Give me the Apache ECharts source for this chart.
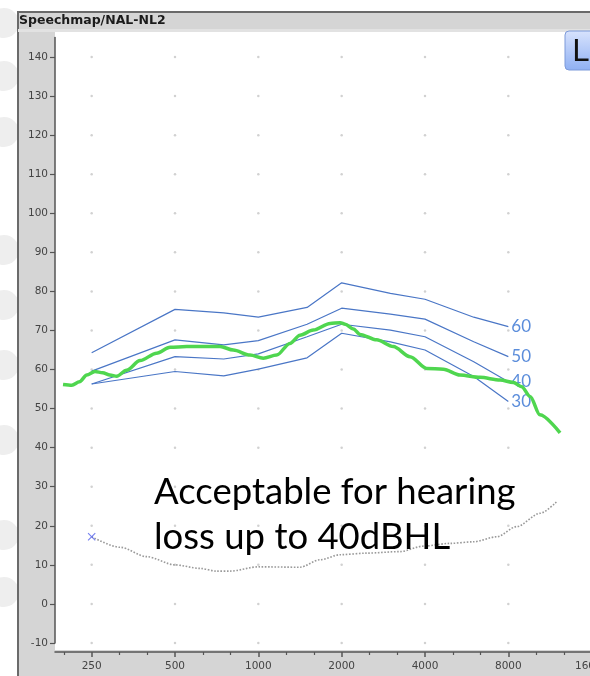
<!DOCTYPE html>
<html>
<head>
<meta charset="utf-8">
<script src="https://cdn.jsdelivr.net/npm/echarts@6/dist/echarts.min.js"></script>
<style>
  html, body { margin: 0; padding: 0; background: #fff; }
  #chart { width: 590px; height: 676px; }
</style>
</head>
<body>
<div id="chart"></div>
<script>
// frequency axis (Hz) and level axis (dB SPL)
const xTickFreqs = [250, 500, 1000, 2000, 4000, 8000, 16000]
const yTicks = [-10, 0, 10, 20, 30, 40, 50, 60, 70, 80, 90, 100, 110, 120, 130, 140]

// speech targets for input levels 60/50/40/30
const inputLevels = ['60', '50', '40', '30']
const targetFreqs = [250, 500, 750, 1000, 1500, 2000, 3000, 4000, 6000, 8000]
const target60 = [64.3, 75.4, 74.5, 73.4, 75.9, 82.2, 79.5, 78.0, 73.4, 71.0]
const target50 = [59.6, 67.6, 66.3, 67.4, 71.6, 75.7, 74.2, 72.9, 67.1, 63.3]
const target40 = [56.3, 63.3, 62.7, 64.0, 68.4, 71.6, 70.1, 68.4, 62.0, 56.9]
const target30 = [56.3, 59.5, 58.4, 60.1, 63.0, 69.3, 67.1, 65.0, 58.2, 51.8]

// measured response (green)
const measuredFreqs = [197, 212, 226, 240, 257, 274, 291, 308, 334, 374, 429, 480, 551, 651, 727, 812, 933, 1042, 1165, 1300, 1414, 1580, 1816, 1975, 2060, 2204, 2330, 2676, 3074, 3530, 4058, 4660, 5350, 6320, 7470, 8340, 8940, 9590, 10400, 12300]
const measuredLevels = [56.2, 56.0, 56.9, 58.6, 59.5, 59.2, 58.6, 58.3, 59.8, 62.3, 64.2, 65.7, 65.9, 65.9, 65.9, 65.0, 63.7, 62.9, 63.7, 66.7, 68.8, 70.1, 71.8, 72.0, 71.6, 70.4, 69.0, 67.6, 65.9, 63.3, 60.3, 60.1, 58.6, 58.0, 57.3, 56.7, 55.6, 53.1, 48.4, 43.8]

// threshold (grey dotted), first point marked with x
const threshFreqs = [250, 317, 395, 500, 615, 707, 790, 1000, 1414, 1670, 1975, 2463, 3250, 3950, 4930, 5980, 7270, 8580, 10420, 11970]
const threshLevels = [17.2, 14.5, 12.1, 10.0, 9.1, 8.4, 8.4, 9.5, 9.4, 11.3, 12.6, 13.0, 13.4, 14.8, 15.5, 15.9, 17.2, 19.8, 23.2, 26.2]

const toOct = f => Math.log2(f / 250)
const pairs = (fs, vs) => fs.map((f, i) => [toOct(f), vs[i]])
const targets = [target60, target50, target40, target30]

const majorX = xTickFreqs.map(toOct)
const minorX = []
for (let i = -1; i <= 18; i++) {
  if (i % 3 !== 0) minorX.push(i / 3)
}

const chart = echarts.init(document.getElementById('chart'))

const bgCircles = [23, 76, 132, 250, 305, 365, 440, 535, 592].map(cy => ({
  type: 'circle',
  shape: { cx: 4, cy: cy, r: 15 },
  style: { fill: '#eeeeee' },
  z: -30
}))

const option = {
  animation: false,
  backgroundColor: '#fff',
  grid: {
    left: 55,
    right: -22.5,
    top: 37.5,
    bottom: 33,
    outerBoundsMode: 'none'
  },
  xAxis: [
    {
      type: 'value',
      min: -0.44,
      max: 6.25,
      position: 'bottom',
      offset: 9,
      axisLine: { show: true, onZero: false, lineStyle: { color: '#555', width: 1.5 } },
      axisTick: { show: true, inside: false, length: 5, customValues: majorX, lineStyle: { color: '#555', width: 1.5 } },
      axisLabel: {
        customValues: majorX,
        margin: 9,
        color: '#444',
        fontSize: 10.5,
        fontFamily: 'DejaVu Sans',
        formatter: v => String(Math.round(250 * Math.pow(2, v)))
      },
      splitLine: { show: false }
    },
    {
      type: 'value',
      min: -0.44,
      max: 6.25,
      position: 'bottom',
      offset: 9,
      axisLine: { show: false, onZero: false },
      axisTick: { show: true, length: 3, customValues: minorX, lineStyle: { color: '#555', width: 1.2 } },
      axisLabel: { show: false },
      splitLine: { show: false }
    }
  ],
  yAxis: {
    type: 'value',
    min: -10,
    max: 145,
    axisLine: { show: true, onZero: false, lineStyle: { color: '#555', width: 1.5 } },
    axisTick: { show: true, length: 5, customValues: yTicks, lineStyle: { color: '#555', width: 1.2 } },
    axisLabel: {
      customValues: yTicks,
      margin: 7,
      color: '#444',
      fontSize: 10.5,
      fontFamily: 'DejaVu Sans'
    },
    splitLine: { show: false }
  },
  graphic: {
    elements: [
      ...bgCircles,
      // window frame
      {
        type: 'rect',
        shape: { x: 18, y: 12, width: 600, height: 680 },
        style: { fill: '#d5d5d5', stroke: '#6a6a6a', lineWidth: 2 },
        z: -20
      },
      {
        type: 'rect',
        shape: { x: 18, y: 29, width: 600, height: 3 },
        style: { fill: '#e2e2e2' },
        z: -15
      },
      {
        type: 'rect',
        shape: { x: 55, y: 32, width: 560, height: 618 },
        style: { fill: '#fff' },
        z: -10
      },
      {
        type: 'text',
        style: {
          x: 19,
          y: 21,
          text: 'Speechmap/NAL-NL2',
          font: 'bold 12.5px "DejaVu Sans"',
          fill: '#1b1b1b',
          verticalAlign: 'middle'
        },
        z: 5
      },
      // L button
      {
        type: 'rect',
        shape: { x: 565, y: 31, width: 34, height: 39, r: 4 },
        style: {
          fill: new echarts.graphic.LinearGradient(0, 0, 0, 1, [
            { offset: 0, color: '#d8e3fd' },
            { offset: 1, color: '#8fb0f3' }
          ]),
          stroke: '#7d9ad9',
          lineWidth: 1
        },
        z: 5
      },
      {
        type: 'text',
        style: {
          x: 572,
          y: 53,
          text: 'L',
          font: '30px "DejaVu Sans"',
          fill: '#111',
          verticalAlign: 'middle'
        },
        z: 6
      },
      // slide annotation
      {
        type: 'text',
        style: {
          x: 154,
          y: 492,
          text: 'Acceptable for hearing',
          font: '36.5px Lato',
          fill: '#000',
          verticalAlign: 'middle'
        },
        z: 20
      },
      {
        type: 'text',
        style: {
          x: 154,
          y: 537,
          text: 'loss up to 40dBHL',
          font: '36.5px Lato',
          fill: '#000',
          verticalAlign: 'middle'
        },
        z: 20
      }
    ]
  },
  series: [
    {
      type: 'scatter',
      silent: true,
      symbolSize: 2.5,
      itemStyle: { color: '#c6c6c6' },
      z: 1,
      data: xTickFreqs.flatMap(f => yTicks.map(v => [toOct(f), v]))
    },
    ...inputLevels.map((name, k) => ({
      type: 'line',
      name: name,
      symbol: 'none',
      lineStyle: { color: '#4a76c6', width: 1.2 },
      z: 2,
      endLabel: {
        show: true,
        formatter: '{a}',
        distance: 3,
        color: '#5b8ddb',
        fontSize: 17,
        fontFamily: 'Lato'
      },
      data: pairs(targetFreqs, targets[k])
    })),
    {
      type: 'line',
      name: 'measured',
      symbol: 'none',
      smooth: 0.3,
      smoothMonotone: 'x',
      lineStyle: { color: '#4fd64f', width: 3.5 },
      z: 3,
      data: pairs(measuredFreqs, measuredLevels)
    },
    {
      type: 'line',
      name: 'threshold',
      symbol: 'none',
      smooth: 0.3,
      smoothMonotone: 'x',
      lineStyle: { color: '#9a9a9a', width: 1.6, type: 'dotted' },
      z: 3,
      data: pairs(threshFreqs, threshLevels)
    },
    {
      type: 'scatter',
      name: 'marker',
      symbol: 'path://M1,0 L5,4 L9,0 L10,1 L6,5 L10,9 L9,10 L5,6 L1,10 L0,9 L4,5 L0,1 Z',
      symbolSize: 8,
      itemStyle: { color: '#5262ee' },
      z: 4,
      data: [[toOct(threshFreqs[0]), threshLevels[0]]]
    }
  ]
}

chart.setOption(option)
</script>
</body>
</html>
